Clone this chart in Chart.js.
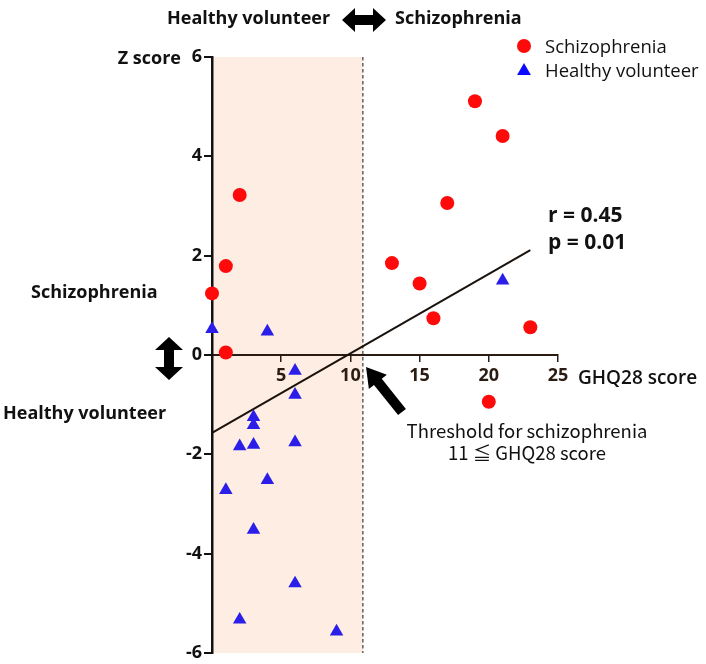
<!DOCTYPE html>
<html>
<head>
<meta charset="utf-8">
<script src="https://cdn.jsdelivr.net/npm/chart.js@4.4.1/dist/chart.umd.min.js"></script>
<style>
  html, body { margin: 0; padding: 0; background: #ffffff; }
  #wrap { width: 706px; height: 664px; position: relative; }
</style>
</head>
<body>
<div id="wrap"><canvas id="c" width="706" height="664"></canvas></div>
<script>
// ---- data ----
const ghqSchizo = [19, 21, 17, 13, 15, 16, 23, 20, 2, 1, 0, 1];
const zSchizo   = [5.11, 4.41, 3.06, 1.85, 1.44, 0.74, 0.56, -0.94, 3.22, 1.79, 1.24, 0.05];
const ghqHealthy = [0, 4, 21, 6, 6, 3, 3, 3, 2, 6, 1, 4, 3, 6, 2, 9];
const zHealthy   = [0.52, 0.47, 1.50, -0.32, -0.80, -1.25, -1.41, -1.81, -1.84, -1.76, -2.72, -2.52, -3.52, -4.60, -5.33, -5.57];
const regressionGhq = [0, 23];
const regressionZ   = [-1.57, 2.11];
const xTickValues = [0, 5, 10, 15, 20, 25];
const yTickValues = [-6, -4, -2, 0, 2, 4, 6];
const thresholdGhq = 10.9;
const seriesNames = ['Schizophrenia', 'Healthy volunteer'];
const statLines = ['r = 0.45', 'p = 0.01'];
const thresholdLines = ['Threshold for schizophrenia', '11 \u2266 GHQ28 score'];

const RED = '#ff0a0a';
const BLUE = '#2a1ee8';
const BOLD = '"Open Sans", "Noto Sans", sans-serif';
const CJK = '"Noto Sans CJK JP", "Noto Sans", sans-serif';

function pts(xs, ys) { return xs.map((x, i) => ({ x: x, y: ys[i] })); }

function arrowPoly(ctx, x1, y1, x2, y2, shaft, headW, headL, doubleEnded) {
  const dx = x2 - x1, dy = y2 - y1;
  const len = Math.hypot(dx, dy);
  const ux = dx / len, uy = dy / len;
  const nx = -uy, ny = ux;
  const P = (t, s) => [x1 + ux * t + nx * s, y1 + uy * t + ny * s];
  const pts = [];
  const hs = shaft / 2, hh = headW / 2;
  if (doubleEnded) {
    pts.push(P(0, 0), P(headL, hh), P(headL, hs), P(len - headL, hs), P(len - headL, hh),
             P(len, 0), P(len - headL, -hh), P(len - headL, -hs), P(headL, -hs), P(headL, -hh));
  } else {
    pts.push(P(0, hs), P(len - headL, hs), P(len - headL, hh), P(len, 0),
             P(len - headL, -hh), P(len - headL, -hs), P(0, -hs));
  }
  ctx.beginPath();
  pts.forEach((p, i) => i ? ctx.lineTo(p[0], p[1]) : ctx.moveTo(p[0], p[1]));
  ctx.closePath();
  ctx.fill();
}

const decor = {
  id: 'decor',
  beforeDraw(chart) {
    const ctx = chart.ctx, xs = chart.scales.x, ys = chart.scales.y;
    const x0 = xs.getPixelForValue(0), xt = xs.getPixelForValue(thresholdGhq);
    const yTop = ys.getPixelForValue(6), yBot = ys.getPixelForValue(-6);
    ctx.save();
    ctx.fillStyle = '#fdede3';
    ctx.fillRect(x0, yTop, xt - x0, yBot - yTop);
    ctx.strokeStyle = '#4a4a4a';
    ctx.lineWidth = 1.3;
    ctx.setLineDash([3.5, 2.5]);
    ctx.beginPath();
    ctx.moveTo(xt, yTop);
    ctx.lineTo(xt, yBot);
    ctx.stroke();
    ctx.restore();
  },
  afterDraw(chart) {
    const ctx = chart.ctx;
    ctx.save();
    ctx.fillStyle = '#111';
    ctx.textBaseline = 'middle';
    // top header
    ctx.font = 'bold 18px ' + BOLD;
    ctx.textAlign = 'left';
    ctx.fillText('Healthy volunteer', 167, 19);
    ctx.fillText('Schizophrenia', 395, 19);
    ctx.fillStyle = '#000';
    arrowPoly(ctx, 342, 20, 386, 20, 10, 24, 13, true);
    // y axis side labels
    ctx.fillStyle = '#111';
    ctx.textAlign = 'right';
    ctx.fillText('Z score', 181, 59);
    ctx.textAlign = 'left';
    ctx.fillText('Schizophrenia', 31, 293);
    ctx.fillText('Healthy volunteer', 3, 414);
    ctx.fillStyle = '#000';
    arrowPoly(ctx, 169, 337, 169, 380, 10, 28, 13, true);
    // x axis title
    ctx.fillStyle = '#111';
    ctx.font = '600 19px ' + BOLD;
    ctx.fillText('GHQ28 score', 578, 379);
    // stats
    ctx.font = 'bold 21px ' + BOLD;
    ctx.fillText(statLines[0], 548, 216);
    ctx.fillText(statLines[1], 548, 243);
    // threshold note
    ctx.font = '18.5px ' + CJK;
    ctx.textAlign = 'center';
    ctx.fillText(thresholdLines[0], 527, 431);
    ctx.fillText(thresholdLines[1], 527, 453);
    ctx.fillStyle = '#000';
    arrowPoly(ctx, 402, 412, 366, 367, 10, 23, 19, false);
    // legend
    ctx.font = '500 18.5px ' + BOLD;
    ctx.textAlign = 'left';
    ctx.fillStyle = RED;
    ctx.beginPath(); ctx.arc(524, 46, 7, 0, Math.PI * 2); ctx.fill();
    ctx.fillStyle = '#0a0aff';
    const r = 8;
    ctx.beginPath();
    ctx.moveTo(524, 71 - r);
    ctx.lineTo(524 + r * 0.866, 71 + r * 0.5);
    ctx.lineTo(524 - r * 0.866, 71 + r * 0.5);
    ctx.closePath(); ctx.fill();
    ctx.fillStyle = '#111';
    ctx.fillText(seriesNames[0], 545, 48);
    ctx.fillText(seriesNames[1], 545, 72);
    ctx.restore();
  }
};

new Chart(document.getElementById('c'), {
  type: 'scatter',
  data: {
    datasets: [
      {
        label: seriesNames[0],
        data: pts(ghqSchizo, zSchizo),
        pointStyle: 'circle',
        pointRadius: 7,
        pointHoverRadius: 7,
        backgroundColor: RED,
        borderColor: RED,
        borderWidth: 0,
        clip: false,
        order: 2
      },
      {
        label: seriesNames[1],
        data: pts(ghqHealthy, zHealthy),
        pointStyle: 'triangle',
        pointRadius: 7.8,
        pointHoverRadius: 7.8,
        backgroundColor: BLUE,
        borderColor: BLUE,
        borderWidth: 0,
        clip: false,
        order: 1
      },
      {
        type: 'line',
        label: 'regression',
        data: pts(regressionGhq, regressionZ),
        showLine: true,
        pointRadius: 0,
        borderColor: '#1a120c',
        borderWidth: 2,
        fill: false,
        clip: false,
        order: 3
      }
    ]
  },
  options: {
    responsive: false,
    animation: false,
    events: [],
    layout: { padding: { left: 172, right: 148, top: 57, bottom: 11 } },
    plugins: { legend: { display: false }, tooltip: { enabled: false } },
    scales: {
      x: {
        type: 'linear',
        min: 0, max: 25,
        position: { y: 0 },
        afterFit: s => { s.height = 0; s.paddingLeft = 0; s.paddingRight = 0; s.paddingTop = 0; s.paddingBottom = 0; },
        afterBuildTicks: s => { s.ticks = xTickValues.map(v => ({ value: v })); },
        ticks: {
          autoSkip: false, maxRotation: 0,
          padding: 4,
          color: '#2a1c12',
          font: { family: BOLD, size: 18, weight: 'bold' },
          callback: v => (v === 0 ? '' : String(v))
        },
        grid: { drawOnChartArea: false, drawTicks: true, tickLength: 6, color: '#2a1c12', lineWidth: 1.5 },
        border: { display: true, color: '#2a1c12', width: 2 }
      },
      y: {
        type: 'linear',
        min: -6, max: 6,
        position: 'left',
        afterFit: s => { s.width = 40; s.paddingTop = 0; s.paddingBottom = 0; },
        afterBuildTicks: s => { s.ticks = yTickValues.map(v => ({ value: v })); },
        ticks: {
          autoSkip: false,
          padding: 2,
          color: '#111',
          font: { family: BOLD, size: 18, weight: 'bold' }
        },
        grid: { drawOnChartArea: false, drawTicks: true, tickLength: 8, color: '#111', lineWidth: 2 },
        border: { display: true, color: '#111', width: 2.5 }
      }
    }
  },
  plugins: [decor]
});
</script>
</body>
</html>
